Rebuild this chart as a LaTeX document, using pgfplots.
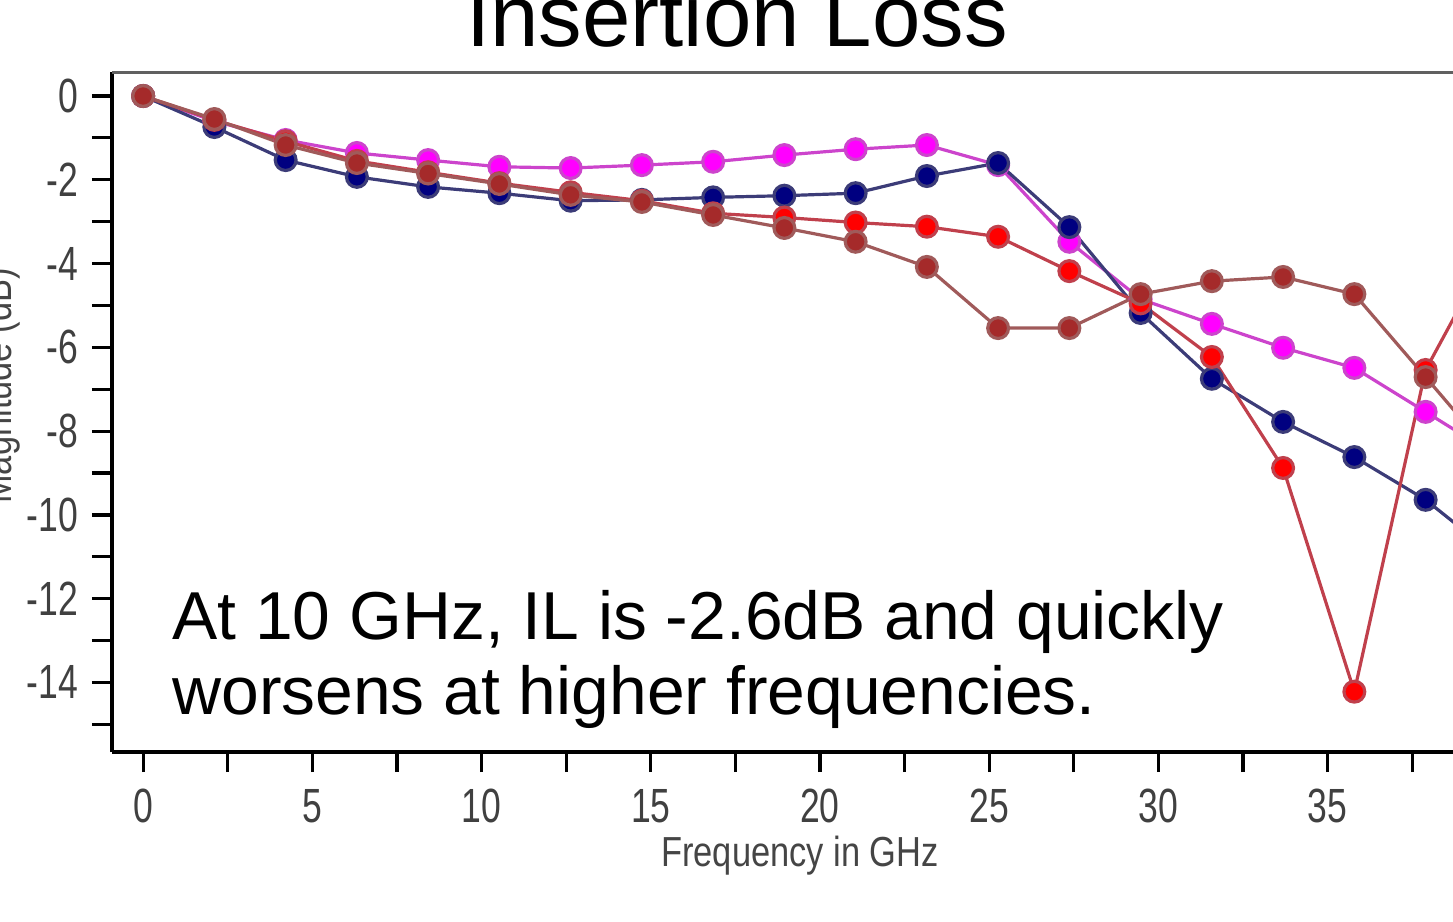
\documentclass[border=0pt]{standalone}
\usepackage{fontspec}
\setmainfont{Liberation Sans}
\newfontfamily\narrowfont[FakeStretch=0.74]{Liberation Sans}
\newfontfamily\labelfont[FakeStretch=0.82]{Liberation Sans}
\usepackage{pgfplots}
\usepackage{pgfplotstable}
\pgfplotsset{compat=1.18}
\definecolor{navyM}{HTML}{000080}
\definecolor{navyL}{HTML}{3C3C78}
\definecolor{magM}{HTML}{FF00FF}
\definecolor{magL}{HTML}{CC44CC}
\definecolor{redM}{HTML}{FF0000}
\definecolor{redL}{HTML}{C0404C}
\definecolor{brM}{HTML}{A52A2A}
\definecolor{brL}{HTML}{A05A5A}
\definecolor{tickgray}{HTML}{404040}
\definecolor{labgray}{HTML}{454545}
\definecolor{framegray}{HTML}{606060}
\pgfplotstableread{
f      navy   mag    red    brown
0      0      0      0      0
2.105  -0.74  -0.60  -0.57  -0.55
4.211  -1.53  -1.05  -1.08  -1.17
6.316  -1.93  -1.36  -1.55  -1.60
8.421  -2.17  -1.53  -1.82  -1.85
10.526 -2.32  -1.69  -2.08  -2.10
12.632 -2.50  -1.72  -2.30  -2.36
14.737 -2.48  -1.65  -2.50  -2.53
16.842 -2.42  -1.57  -2.80  -2.84
18.947 -2.38  -1.41  -2.90  -3.15
21.053 -2.32  -1.27  -3.02  -3.48
23.158 -1.91  -1.17  -3.12  -4.08
25.263 -1.60  -1.65  -3.36  -5.54
27.368 -3.13  -3.48  -4.18  -5.54
29.474 -5.18  -4.85  -4.95  -4.73
31.579 -6.75  -5.44  -6.23  -4.42
33.684 -7.78  -6.01  -8.88  -4.32
35.789 -8.62  -6.49  -14.22 -4.73
37.895 -9.64  -7.54  -6.54  -6.71
40     -11.0  -8.60  -3.40  -8.70
}\datatable
\begin{document}
\begin{tikzpicture}
\path[use as bounding box] (-56pt,-85pt) rectangle (670.5pt,376pt);
\clip (-56pt,-85pt) rectangle (670.5pt,376pt);
\begin{axis}[
  scale only axis, width=708pt, height=340pt,
  at={(0pt,0pt)}, anchor=south west,
  xmin=-0.92, xmax=40.92, ymin=-15.66, ymax=0.573,
  axis x line*=bottom, axis y line*=left,
  axis line style={line width=2pt, black},
  xtick={0,5,...,35}, minor xtick={2.5,7.5,...,37.5},
  ytick={0,-2,...,-14}, minor ytick={-1,-3,...,-15},
  tick align=outside, major tick length=10pt, minor tick length=10pt,
  tick style={line width=1.6pt, black},
  ticklabel style={font=\narrowfont\fontsize{24}{24}\selectfont, text=tickgray},
  xticklabel style={yshift=-5pt},
  yticklabel style={xshift=-3.5pt},
  /pgf/number format/assume math mode=true,
  every axis plot/.append style={line width=1.6pt, mark=*, mark size=5.2pt},
]
\draw[framegray, line width=2pt] (rel axis cs:0,1) -- (rel axis cs:1,1);
\addplot[magL, mark options={draw=none, fill=magM}] table[x=f, y=mag] {\datatable};
\addplot[navyL, mark options={draw=none, fill=navyM}] table[x=f, y=navy] {\datatable};
\addplot[redL, mark options={draw=none, fill=redM}] table[x=f, y=red] {\datatable};
\addplot[brL, mark options={draw=none, fill=brM}] table[x=f, y=brown] {\datatable};
\end{axis}
\node[anchor=base, font=\fontsize{43.5}{43.5}\selectfont] at (312.5pt,352.5pt) {Insertion Loss};
\node[anchor=base, font=\labelfont\fontsize{21}{21}\selectfont, text=labgray] at (344pt,-57pt) {Frequency in GHz};
\node[anchor=base, rotate=90, font=\labelfont\fontsize{21}{21}\selectfont, text=labgray] at (-50pt,183pt) {Magnitude (dB)};
\node[anchor=base west, inner sep=0pt, font=\fontsize{33.9}{33.9}\selectfont] at (30pt,56pt) {At 10 GHz, IL is -2.6dB and quickly};
\node[anchor=base west, inner sep=0pt, font=\fontsize{33.9}{33.9}\selectfont] at (30pt,18.5pt) {worsens at higher frequencies.};
\end{tikzpicture}
\end{document}
